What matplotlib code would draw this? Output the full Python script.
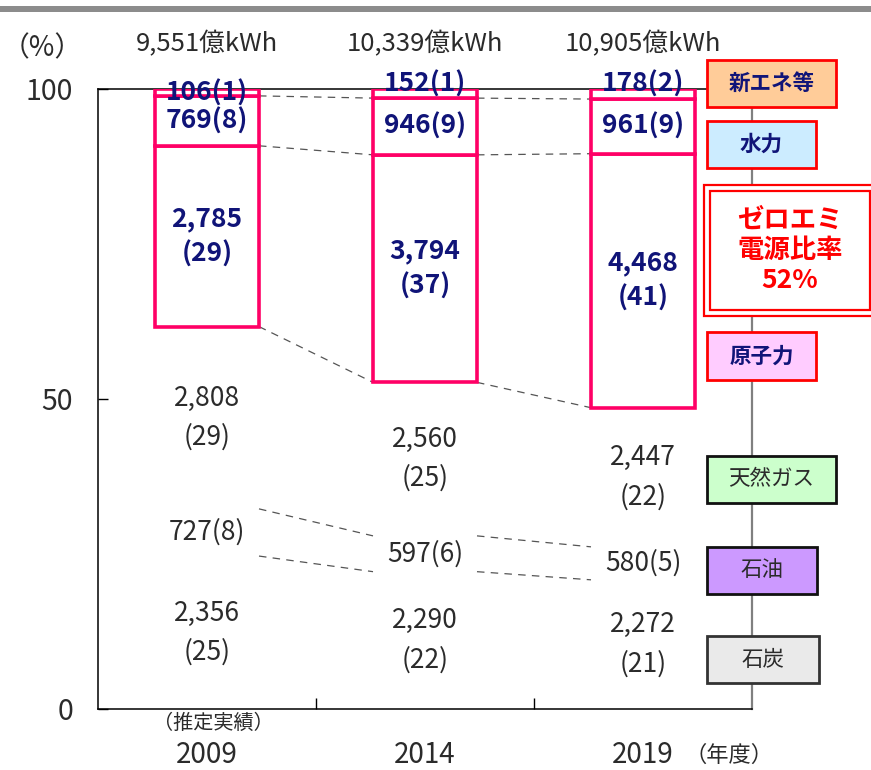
import numpy as np
import matplotlib.pyplot as plt
from matplotlib.patches import Rectangle

plt.rcParams['font.family'] = ['Noto Sans CJK JP', 'DejaVu Sans']

# 発電電力量（億kWh）
years = ['2009', '2014', '2019']
totals = [9551, 10339, 10905]
coal = [2356, 2290, 2272]
oil = [727, 597, 580]
gas = [2808, 2560, 2447]
nuclear = [2785, 3794, 4468]
hydro = [769, 946, 961]
renew = [106, 152, 178]
zero_emi_label = 'ゼロエミ\n電源比率\n52%'

series = [coal, oil, gas, nuclear, hydro, renew]

W, H = 871, 770
fig = plt.figure(figsize=(W / 100, H / 100), dpi=100)
ax = fig.add_axes([98 / W, 1 - 709 / H, (752 - 98) / W, (709 - 89) / H])

x = np.arange(len(years))
width = 0.477
pink = '#FF0066'
navy = '#101478'
dark = '#2B2B2B'
renew_lift = [-0.7, 0.8, 0.8]

bottoms = np.zeros(len(years))
bounds = []
for i, vals in enumerate(series):
    share = np.array(vals) / np.array(totals) * 100
    zero = i >= 3
    ax.bar(x, share, width, bottom=bottoms,
           facecolor='white' if zero else 'none',
           edgecolor=pink if zero else 'none', linewidth=2.6, zorder=3)
    for j in range(len(years)):
        pct = round(vals[j] / totals[j] * 100)
        yc = bottoms[j] + share[j] / 2
        if i in (0, 2):
            ax.text(x[j], yc, f'{vals[j]:,}\n({pct})', ha='center', va='center',
                    fontsize=19, color=dark, linespacing=1.55, zorder=4)
        elif i == 1:
            ax.text(x[j], yc, f'{vals[j]:,}({pct})', ha='center', va='center',
                    fontsize=19, color=dark, zorder=4)
        elif i == 3:
            ax.text(x[j], yc, f'{vals[j]:,}\n({pct})', ha='center', va='center',
                    fontsize=19, color=navy, fontweight='bold', linespacing=1.38, zorder=4)
        elif i == 4:
            ax.text(x[j], yc, f'{vals[j]:,}({pct})', ha='center', va='center',
                    fontsize=19, color=navy, fontweight='bold', zorder=4)
        else:
            ax.text(x[j], 100 + renew_lift[j], f'{vals[j]:,}({pct})', ha='center',
                    va='center', fontsize=19, color=navy, fontweight='bold',
                    zorder=4, clip_on=False)
    bottoms = bottoms + share
    bounds.append(bottoms.copy())

# 構成の境界を結ぶ破線
for b in bounds[:5]:
    for j in range(len(years) - 1):
        ax.plot([x[j] + width / 2, x[j + 1] - width / 2], [b[j], b[j + 1]],
                ls=(0, (6, 5)), lw=0.9, color='#555555', zorder=2)

# 総発電量
for j, t in enumerate(totals):
    ax.text(x[j], 107.3, f'{t:,}億kWh', ha='center', va='center',
            fontsize=18.5, color=dark, clip_on=False)

ax.set_xlim(-0.5, 2.5)
ax.set_ylim(0, 100)
ax.set_yticks([0, 50, 100])
ax.tick_params(axis='y', direction='in', length=7, width=1, pad=18,
               labelsize=20.5, labelcolor=dark)
ax.set_xticks(x)
ax.set_xticklabels(years)
ax.tick_params(axis='x', length=0, pad=22, labelsize=20, labelcolor=dark)
ax.set_xticks([0.5, 1.5], minor=True)
ax.tick_params(axis='x', which='minor', direction='in', length=8, width=1)

for s in ['left', 'bottom', 'top']:
    ax.spines[s].set_color('black')
    ax.spines[s].set_linewidth(1.1)
ax.spines['top'].set_bounds(-0.5, 2.293)
ax.spines['right'].set_color('#808080')
ax.spines['right'].set_linewidth(1.6)

ax.text(-0.757, 106.6, '（%）', ha='center', va='center', fontsize=20,
        color=dark, clip_on=False)
ax.text(x[0] + 0.03, -2.3, '（推定実績）', ha='center', va='center', fontsize=14.5,
        color=dark, clip_on=False)
ax.text(2.19, -7.5, '（年度）', ha='left', va='center', fontsize=16,
        color=dark, clip_on=False)


def fig_box(x0, y0, x1, y1, face, edge, lw=2.0):
    fig.add_artist(Rectangle((x0 / W, 1 - y1 / H), (x1 - x0) / W, (y1 - y0) / H,
                             transform=fig.transFigure, facecolor=face,
                             edgecolor=edge, linewidth=lw, zorder=5))


def fig_label(x0, y0, x1, y1, text, color, bold, size):
    fig.text((x0 + x1) / 2 / W, 1 - (y0 + y1) / 2 / H, text, ha='center',
             va='center', color=color, fontsize=size,
             fontweight='bold' if bold else 'normal', zorder=6, linespacing=1.15)


# 凡例ボックス
legend_boxes = [
    ('新エネ等', (707, 60, 836, 107), '#FFCC99', '#FF0000', navy, True),
    ('水力', (707, 121, 816, 168), '#CCECFF', '#FF0000', navy, True),
    ('原子力', (707, 332, 816, 380), '#FFCCFF', '#FF0000', navy, True),
    ('天然ガス', (707, 456, 836, 503), '#CCFFCC', '#111111', dark, False),
    ('石油', (707, 547, 817, 594), '#CC99FF', '#111111', dark, False),
    ('石炭', (707, 636, 819, 683), '#EAEAEA', '#333333', dark, False),
]
for name, (x0, y0, x1, y1), face, edge, tc, bold in legend_boxes:
    fig_box(x0, y0, x1, y1, face, edge)
    fig_label(x0, y0, x1, y1, name, tc, bold, 15.5)

fig_box(704, 185, 875, 316, 'white', '#FF0000', 1.6)
fig_box(710, 191, 870, 310, 'white', '#FF0000', 1.6)
fig_label(710, 191, 870, 310, zero_emi_label, '#FF0000', True, 19)

# 上端の帯
fig.add_artist(Rectangle((0, 1 - 12 / H), 1, 6 / H, transform=fig.transFigure,
                         facecolor='#8C8C8C', edgecolor='none', zorder=5))

fig.savefig('out.png', dpi=100)
